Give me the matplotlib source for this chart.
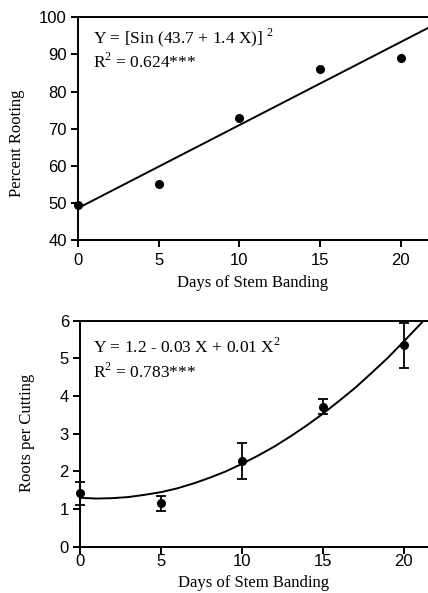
import matplotlib
matplotlib.use("Agg")
import matplotlib.pyplot as plt

# ---- data ----
days = [0, 5, 10, 15, 20]
rooting_pct = [49.5, 55, 73, 86, 89]
rooting_fit_x = [0, 21.7]
rooting_fit_y = [48.6, 97.1]

roots = [1.42, 1.15, 2.27, 3.72, 5.35]
roots_err = [0.30, 0.20, 0.48, 0.20, 0.60]
roots_fit_x = [0, 1, 2, 3, 4, 5, 6, 7, 8, 9, 10, 11, 12, 13, 14, 15, 16, 17, 18, 19, 20, 21, 21.6]
roots_fit_y = [1.30, 1.28, 1.29, 1.32, 1.38, 1.45, 1.55, 1.68, 1.83, 2.00, 2.20,
               2.42, 2.66, 2.93, 3.22, 3.53, 3.87, 4.22, 4.61, 5.01, 5.45, 5.90, 6.18]

x_ticks = [0, 5, 10, 15, 20]
y1_ticks = [40, 50, 60, 70, 80, 90, 100]
y2_ticks = [0, 1, 2, 3, 4, 5, 6]

plt.rcParams['mathtext.fontset'] = 'custom'
plt.rcParams['mathtext.rm'] = 'Liberation Serif'

fig = plt.figure(figsize=(4.28, 5.93), dpi=100)
serif = 'Liberation Serif'
sans = 'Liberation Sans'
lab_fs = 12
ann_fs = 12.5

def style(ax, xpad):
    ax.spines['right'].set_visible(False)
    for s in ('left', 'bottom', 'top'):
        ax.spines[s].set_linewidth(1.4)
    ax.tick_params(direction='out', length=5, width=1.4, labelsize=12)
    ax.tick_params(axis='x', pad=xpad)
    ax.tick_params(axis='y', pad=3)
    for lab in ax.get_xticklabels() + ax.get_yticklabels():
        lab.set_fontfamily(sans)

ax1 = fig.add_axes([0.182, 0.595, 0.818, 0.376])
ax1.plot(rooting_fit_x, rooting_fit_y, color='black', lw=1.4)
ax1.plot(days, rooting_pct, 'o', color='black', ms=5.5, clip_on=False, zorder=5)
ax1.set_xlim(0, 21.7)
ax1.set_ylim(40, 100)
ax1.set_xticks(x_ticks)
ax1.set_yticks(y1_ticks)
style(ax1, 4)
ax1.set_xlabel('Days of Stem Banding', fontfamily=serif, fontsize=lab_fs)
ax1.set_ylabel('Percent Rooting', fontfamily=serif, fontsize=lab_fs)
ax1.xaxis.set_label_coords(0.5, -0.157)
ax1.yaxis.set_label_coords(-0.151, 0.435)
ax1.text(0.043, 0.906, r'Y = [Sin (43.7 + 1.4 X)] $^{2}$', transform=ax1.transAxes,
         fontfamily=serif, fontsize=ann_fs, va='center')
ax1.text(0.043, 0.80, r'R$^{2}$ = 0.624***', transform=ax1.transAxes,
         fontfamily=serif, fontsize=ann_fs, va='center')

ax2 = fig.add_axes([0.187, 0.078, 0.813, 0.381])
ax2.plot(roots_fit_x, roots_fit_y, color='black', lw=1.4)
eb = ax2.errorbar(days, roots, yerr=roots_err, fmt='o', color='black', ms=5.5,
                  capsize=3.5, elinewidth=1.3, capthick=1.3, zorder=5)
for art in eb.get_children():
    art.set_clip_on(False)
ax2.set_xlim(0, 21.5)
ax2.set_ylim(0, 6)
ax2.set_xticks(x_ticks)
ax2.set_yticks(y2_ticks)
style(ax2, 0.5)
ax2.set_xlabel('Days of Stem Banding', fontfamily=serif, fontsize=lab_fs)
ax2.set_ylabel('Roots per Cutting', fontfamily=serif, fontsize=lab_fs)
ax2.xaxis.set_label_coords(0.5, -0.126)
ax2.yaxis.set_label_coords(-0.129, 0.504)
ax2.text(0.037, 0.885, r'Y = 1.2 - 0.03 X + 0.01 X$^{2}$', transform=ax2.transAxes,
         fontfamily=serif, fontsize=ann_fs, va='center')
ax2.text(0.037, 0.774, r'R$^{2}$ = 0.783***', transform=ax2.transAxes,
         fontfamily=serif, fontsize=ann_fs, va='center')

fig.savefig('out.png', dpi=100)
